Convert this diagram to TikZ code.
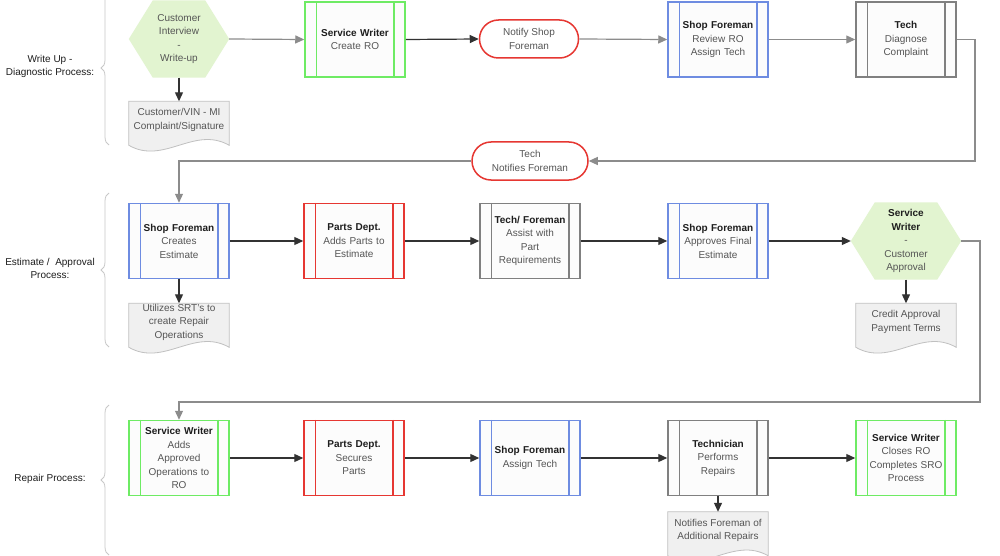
\documentclass[tikz,border=0pt]{standalone}
\usepackage{fontspec}
\setmainfont{Liberation Sans}
\usetikzlibrary{arrows.meta,decorations.pathreplacing}
\definecolor{cgreen}{RGB}{110,235,100}
\definecolor{cblue}{RGB}{110,140,225}
\definecolor{cred}{RGB}{230,55,50}
\definecolor{cgrey}{RGB}{128,128,128}
\definecolor{procfill}{RGB}{252,252,252}
\definecolor{hexfill}{RGB}{226,244,208}
\definecolor{docfill}{RGB}{240,240,240}
\definecolor{docline}{RGB}{192,192,192}
\definecolor{txtgrey}{RGB}{85,85,85}
\definecolor{titleblack}{RGB}{30,30,30}
\definecolor{adark}{RGB}{50,50,50}
\definecolor{agrey}{RGB}{140,140,140}
\definecolor{bracec}{RGB}{200,200,200}
\pgfdeclarelayer{bgwhite}
\pgfdeclarelayer{bg}
\pgfsetlayers{bgwhite,bg,main}
\tikzset{
  basefont/.style={font=\fontsize{10}{13.5}\selectfont},
  proc/.style={basefont, draw, line width=1.5pt, fill=procfill, minimum width=100pt,
    minimum height=75pt, align=center, inner sep=0pt, text width=76pt, text=txtgrey},
  hexa/.style={basefont, minimum width=#1, minimum height=77pt, inner sep=0pt,
    align=center, text=txtgrey},
  docnode/.style={basefont, minimum width=100pt, minimum height=37pt, inner sep=0pt,
    align=center, text=txtgrey},
  rnd/.style={basefont, draw=cred, line width=1.5pt, fill=white, rounded corners=19pt,
    minimum height=38pt, align=center, inner sep=0pt, text=txtgrey},
  sidelabel/.style={basefont, align=center, text=titleblack},
  darr/.style={draw=adark, line width=1.2pt, -{Triangle[length=9pt,width=8pt]}},
  garr/.style={draw=agrey, line width=1.2pt, -{Triangle[length=9pt,width=8pt]}},
  bracestyle/.style={draw=bracec, line width=0.8pt, decorate,
    decoration={brace, amplitude=8pt}},
}
\newcommand{\ttl}[1]{{\color{titleblack}\bfseries #1}}
\newcommand{\procbox}[5]{%
  \node[proc, draw=#4] (#1) at (#2,#3) {#5};
  \draw[#4, line width=1.5pt] ([xshift=12pt]#1.north west) -- ([xshift=12pt]#1.south west);
  \draw[#4, line width=1.5pt] ([xshift=-12pt]#1.north east) -- ([xshift=-12pt]#1.south east);
}
\newcommand{\hexbox}[5]{%
  \node[hexa=#4] (#1) at (#2,#3) {#5};
  \begin{pgfonlayer}{bg}
  \fill[hexfill] (#1.west) -- ([xshift=24pt]#1.north west) -- ([xshift=-24pt]#1.north east)
    -- (#1.east) -- ([xshift=-24pt]#1.south east) -- ([xshift=24pt]#1.south west) -- cycle;
  \end{pgfonlayer}
}
\newcommand{\docbox}[4]{%
  \node[docnode] (#1) at (#2,#3) {#4};
  \begin{pgfonlayer}{bg}
  \filldraw[fill=docfill, draw=docline, line width=0.8pt]
    (#1.north west) -- (#1.north east) -- ([yshift=-44pt]#1.north east)
    .. controls ([xshift=-35pt,yshift=-24pt]#1.north east) and ([xshift=35pt,yshift=-64pt]#1.north west)
    .. ([yshift=-44pt]#1.north west) -- cycle;
  \end{pgfonlayer}
}
\begin{document}
\begin{tikzpicture}[x=1pt,y=-1pt]
\useasboundingbox (0,0) rectangle (1000,556);
\begin{pgfonlayer}{bgwhite}
\fill[white] (0,0) rectangle (1000,556);
\end{pgfonlayer}

% side labels and braces
\node[sidelabel] (lab1) at (50,66.5) {Write Up -\\Diagnostic Process:};
\node[sidelabel] (lab2) at (50,268.5) {Estimate /\ \ Approval\\Process:};
\node[sidelabel] (lab3) at (50,479) {Repair Process:};
\draw[bracestyle] (109,145) -- (109,-9);
\draw[bracestyle] (109,347) -- (109,193);
\draw[bracestyle] (109,555) -- (109,405);

% row 1
\hexbox{hexa1}{179}{39}{100pt}{Customer\\Interview\\-\\Write-up}
\procbox{sw1}{355}{39.5}{cgreen}{\ttl{Service Writer}\\Create RO}
\node[rnd, minimum width=99pt] (notify) at (529,39) {Notify Shop\\Foreman};
\procbox{sf1}{718}{39.5}{cblue}{\ttl{Shop Foreman}\\Review RO\\Assign Tech}
\procbox{tech1}{906}{39.5}{cgrey}{\ttl{Tech}\\Diagnose\\Complaint}
\docbox{doc1}{179}{120}{Customer/VIN - MI\\Complaint/Signature}
\node[rnd, minimum width=116pt] (tnf) at (530,161) {Tech\\Notifies Foreman};

% row 2
\procbox{sf2}{179}{241}{cblue}{\ttl{Shop Foreman}\\Creates\\Estimate}
\procbox{parts2}{354}{241}{cred}{\ttl{Parts Dept.}\\Adds Parts to\\Estimate}
\procbox{tf2}{530}{241}{cgrey}{\ttl{Tech/ Foreman}\\Assist with\\Part\\Requirements}
\procbox{sfa2}{718}{241}{cblue}{\ttl{Shop Foreman}\\Approves Final\\Estimate}
\hexbox{hexa2}{906}{241}{110pt}{\ttl{Service}\\\ttl{Writer}\\-\\Customer\\Approval}
\docbox{doc2}{179}{322}{Utilizes SRT's to\\create Repair\\Operations}
\docbox{doc3}{906}{322}{Credit Approval\\Payment Terms}

% row 3
\procbox{sw3}{179}{458}{cgreen}{\ttl{Service Writer}\\Adds\\Approved\\Operations to\\RO}
\procbox{parts3}{354}{458}{cred}{\ttl{Parts Dept.}\\Secures\\Parts}
\procbox{sf3}{530}{458}{cblue}{\ttl{Shop Foreman}\\Assign Tech}
\procbox{tech3}{718}{458}{cgrey}{\ttl{Technician}\\Performs\\Repairs}
\procbox{swc3}{906}{458}{cgreen}{\ttl{Service Writer}\\Closes RO\\Completes SRO\\Process}
\docbox{doc4}{718}{530.5}{Notifies Foreman of\\Additional Repairs}

% connectors
\coordinate (c1) at (975,39.5);
\coordinate (c2) at (980,402);
\draw[garr] (hexa1.east) -- (sw1.west);
\draw[darr] (hexa1.south) -- (doc1.north);
\draw[darr] (sw1.east) -- (notify.west);
\draw[garr] (notify.east) -- (sf1.west);
\draw[garr] (sf1.east) -- (tech1.west);
\draw[garr] (tech1.east) -- (c1) |- (tnf.east);
\draw[garr] (tnf.west) -| (sf2.north);
\draw[darr] (sf2.east) -- (parts2.west);
\draw[darr] (parts2.east) -- (tf2.west);
\draw[darr] (tf2.east) -- (sfa2.west);
\draw[darr] (sfa2.east) -- (hexa2.west);
\draw[darr] (sf2.south) -- (doc2.north);
\draw[darr] (hexa2.south) -- (doc3.north);
\draw[garr] (hexa2.east) -| (c2) -| (sw3.north);
\draw[darr] (sw3.east) -- (parts3.west);
\draw[darr] (parts3.east) -- (sf3.west);
\draw[darr] (sf3.east) -- (tech3.west);
\draw[darr] (tech3.east) -- (swc3.west);
\draw[darr] (tech3.south) -- (doc4.north);
\end{tikzpicture}
\end{document}
